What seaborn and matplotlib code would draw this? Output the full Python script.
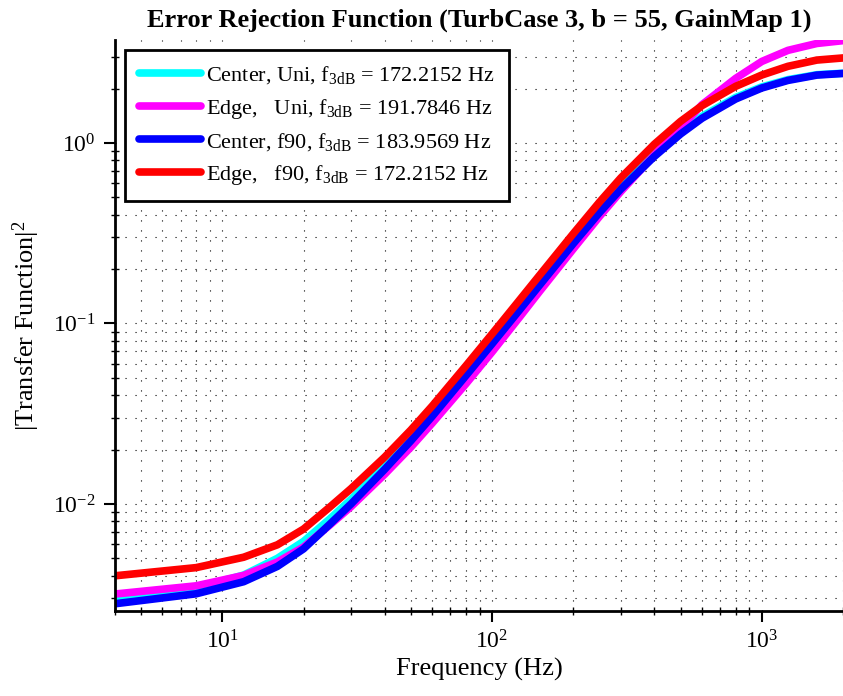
import numpy as np
import pandas as pd
import seaborn as sns
import matplotlib
matplotlib.use("Agg")
import matplotlib.pyplot as plt
from matplotlib.ticker import LogLocator, NullFormatter

# frequencies (Hz)
freq = [4, 8, 12, 16, 20, 25, 30, 40, 50, 60, 80, 100, 125, 150, 200,
        250, 300, 400, 500, 600, 800, 1000, 1250, 1600, 2000]

center_uni = [0.00302, 0.00342, 0.00404, 0.0050, 0.0062, 0.00825, 0.0106, 0.01635,
              0.02327, 0.03167, 0.0529, 0.079, 0.1186, 0.1663, 0.2825, 0.419, 0.566,
              0.864, 1.150, 1.404, 1.788, 2.047, 2.244, 2.39, 2.435]
edge_uni = [0.00317, 0.00352, 0.00402, 0.00477, 0.00577, 0.00763, 0.00966, 0.01462,
            0.02064, 0.02803, 0.0463, 0.0695, 0.106, 0.1504, 0.2586, 0.391, 0.538,
            0.859, 1.216, 1.63, 2.28, 2.83, 3.26, 3.56, 3.69]
center_f90 = [0.0028, 0.00318, 0.00371, 0.00451, 0.00564, 0.00771, 0.0100, 0.01557,
              0.02238, 0.0306, 0.0514, 0.0771, 0.1163, 0.163, 0.277, 0.411, 0.555,
              0.843, 1.122, 1.370, 1.753, 2.017, 2.222, 2.378, 2.428]
edge_f90 = [0.0040, 0.00444, 0.00507, 0.00594, 0.00726, 0.0096, 0.01216, 0.0182,
            0.0257, 0.0349, 0.0583, 0.0875, 0.132, 0.185, 0.3145, 0.470, 0.640,
            0.986, 1.318, 1.61, 2.06, 2.38, 2.66, 2.88, 2.96]

labels = ["Center, Uni, f$_{\\rm 3dB}$ = 172.2152 Hz",
          "Edge,   Uni, f$_{\\rm 3dB}$ = 191.7846 Hz",
          "Center, f90, f$_{\\rm 3dB}$ = 183.9569 Hz",
          "Edge,   f90, f$_{\\rm 3dB}$ = 172.2152 Hz"]
colors = ["#00ffff", "#ff00ff", "#0000ff", "#ff0000"]
series = [center_uni, edge_uni, center_f90, edge_f90]

sns.set_theme(style="white")
plt.rcParams["font.family"] = ["Liberation Serif", "DejaVu Serif"]
plt.rcParams["mathtext.fontset"] = "custom"
plt.rcParams["mathtext.rm"] = "Liberation Serif"
plt.rcParams["mathtext.it"] = "Liberation Serif:italic"
plt.rcParams["axes.unicode_minus"] = True
for k in ["text.color", "axes.labelcolor", "xtick.color", "ytick.color"]:
    plt.rcParams[k] = "black"

fig = plt.figure(figsize=(8.43, 6.96), dpi=100)
ax = fig.add_axes([0.1364, 0.122, 0.8636, 0.8205])

for vals, lab, col in zip(series, labels, colors):
    df = pd.DataFrame({"f": freq, "v": vals})
    sns.lineplot(data=df, x="f", y="v", color=col, lw=5.5, label=lab, ax=ax)

ax.set_xscale("log")
ax.set_yscale("log")
ax.set_xlim(4, 2000)
ax.set_ylim(2.55e-3, 3.72)

ax.xaxis.set_minor_locator(LogLocator(base=10, subs=np.arange(2, 10), numticks=20))
ax.yaxis.set_minor_locator(LogLocator(base=10, subs=np.arange(2, 10), numticks=20))
ax.xaxis.set_minor_formatter(NullFormatter())
ax.yaxis.set_minor_formatter(NullFormatter())

ax.grid(True, which="both", color="black", linestyle=(0, (1, 8)), linewidth=0.8)

for s in ["top", "right"]:
    ax.spines[s].set_visible(False)
for s in ["left", "bottom"]:
    ax.spines[s].set_linewidth(2)
    ax.spines[s].set_color("black")

ax.tick_params(which="major", direction="out", length=8, width=1.5,
               labelsize=17, pad=6)
ax.tick_params(which="minor", direction="inout", length=6, width=1)
ax.tick_params(bottom=True, left=True, which="both")

ax.set_xlabel("Frequency (Hz)", fontsize=19, labelpad=3)
ax.set_ylabel("|Transfer Function|$^2$", fontsize=19, labelpad=8)
ax.set_title("Error Rejection Function (TurbCase 3, b = 55, GainMap 1)",
             fontsize=19, fontweight="bold", pad=10)

leg = ax.legend(loc="upper left", fontsize=16, frameon=True, fancybox=False,
                handlelength=2.75, handletextpad=0.25, borderpad=0.65,
                labelspacing=0.46, borderaxespad=0,
                bbox_to_anchor=(0.0137, 0.9825))
leg.get_frame().set_edgecolor("black")
leg.get_frame().set_linewidth(2)
leg.get_frame().set_alpha(1)

fig.savefig("out.png", dpi=100)
